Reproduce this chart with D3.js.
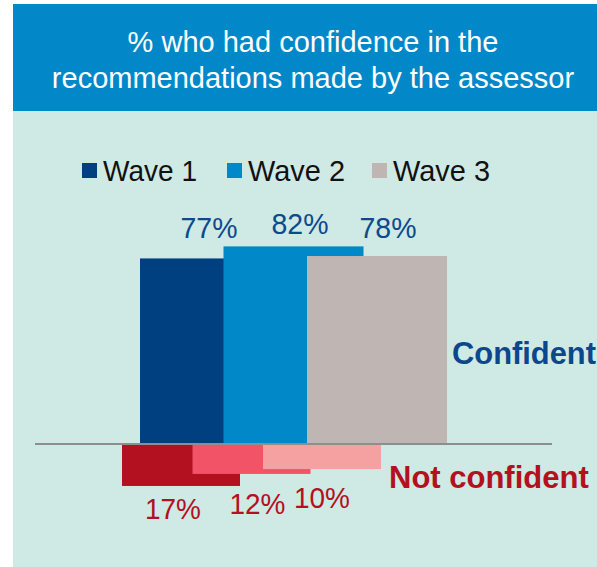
<!DOCTYPE html>
<html>
<head>
<meta charset="utf-8">
<script src="https://cdn.jsdelivr.net/npm/d3@7"></script>
<style>
  html, body { margin: 0; padding: 0; background: #ffffff; }
  svg { display: block; }
  text { font-family: "Liberation Sans", Arial, sans-serif; }
</style>
</head>
<body>
<svg id="chart" width="597" height="567"></svg>
<script>
// ---- data ----
const titleLines = ["% who had confidence in the", "recommendations made by the assessor"];
const waves = ["Wave 1", "Wave 2", "Wave 3"];
const confident = [77, 82, 78];
const notConfident = [17, 12, 10];
const posColors = ["#003f80", "#0088c8", "#bfb5b2"];
const negColors = ["#b31020", "#f25366", "#f5a1a1"];
const posLabel = "Confident";
const negLabel = "Not confident";

// ---- drawing ----
const svg = d3.select("#chart");

// panels
svg.append("rect").attr("x", 13).attr("y", 110).attr("width", 584).attr("height", 457).attr("fill", "#cfe9e5");
svg.append("rect").attr("x", 13).attr("y", 4).attr("width", 584).attr("height", 107).attr("fill", "#0288c8");

svg.selectAll("text.title").data(titleLines).enter().append("text")
  .attr("class", "title")
  .attr("x", 313).attr("y", (d, i) => 52 + i * 36)
  .attr("text-anchor", "middle").attr("fill", "#ffffff")
  .attr("font-size", 29)
  .text(d => d);

// legend
const legX = d3.scaleOrdinal().domain(waves).range([82, 227, 372]);
const legW = [94, 97, 97];
const leg = svg.selectAll("g.leg").data(waves).enter().append("g").attr("class", "leg")
  .attr("transform", d => `translate(${legX(d)},163)`);
leg.append("rect").attr("width", 15).attr("height", 15).attr("fill", (d, i) => posColors[i]);
leg.append("text").attr("x", 21).attr("y", 18).attr("font-size", 29).attr("fill", "#111")
  .attr("textLength", (d, i) => legW[i]).attr("lengthAdjust", "spacingAndGlyphs")
  .text(d => d);

// scales
const pxPerPct = 2.41;
const yPos = d3.scaleLinear().domain([0, 100]).range([444, 444 - 100 * pxPerPct]);
const yNeg = d3.scaleLinear().domain([0, 100]).range([445, 445 + 100 * pxPerPct]);
const xPos = d3.scaleBand().domain(waves).range([140, 390.5]).padding(0);
const xNeg = d3.scaleBand().domain(waves).range([122, 333.5]).padding(0);
const posBarW = 140, negBarW = 118;

// positive bars (drawn in order so later waves overlap earlier ones)
svg.selectAll("rect.pos").data(confident).enter().append("rect")
  .attr("class", "pos")
  .attr("x", (d, i) => xPos(waves[i]))
  .attr("y", d => yPos(d))
  .attr("width", posBarW)
  .attr("height", d => yPos(0) - yPos(d))
  .attr("fill", (d, i) => posColors[i]);

// negative bars
svg.selectAll("rect.neg").data(notConfident).enter().append("rect")
  .attr("class", "neg")
  .attr("x", (d, i) => xNeg(waves[i]))
  .attr("y", yNeg(0))
  .attr("width", negBarW)
  .attr("height", d => yNeg(d) - yNeg(0))
  .attr("fill", (d, i) => negColors[i]);

// baseline
svg.append("line").attr("x1", 35).attr("x2", 552).attr("y1", 444).attr("y2", 444)
  .attr("stroke", "#8e8e8e").attr("stroke-width", 2);

// value labels
const posDx = [-1, 6.5, 11], posDy = [-20, -12, -18];
svg.selectAll("text.pv").data(confident).enter().append("text")
  .attr("class", "pv")
  .attr("x", (d, i) => xPos(waves[i]) + posBarW / 2 + posDx[i])
  .attr("y", (d, i) => yPos(d) + posDy[i])
  .attr("text-anchor", "middle").attr("font-size", 30).attr("fill", "#0d4a8c")
  .attr("textLength", 57).attr("lengthAdjust", "spacingAndGlyphs")
  .text(d => d + "%");

const negDx = [-8, 6, 0], negDy = [33, 40, 39];
svg.selectAll("text.nv").data(notConfident).enter().append("text")
  .attr("class", "nv")
  .attr("x", (d, i) => xNeg(waves[i]) + negBarW / 2 + negDx[i])
  .attr("y", (d, i) => yNeg(d) + negDy[i])
  .attr("text-anchor", "middle").attr("font-size", 29.5).attr("fill", "#b31020")
  .attr("textLength", 56).attr("lengthAdjust", "spacingAndGlyphs")
  .text(d => d + "%");

// side labels
svg.append("text").attr("x", 452).attr("y", 364)
  .attr("font-size", 31).attr("font-weight", "bold").attr("fill", "#0b478a")
  .attr("textLength", 144).attr("lengthAdjust", "spacingAndGlyphs").text(posLabel);
svg.append("text").attr("x", 389).attr("y", 488)
  .attr("font-size", 31).attr("font-weight", "bold").attr("fill", "#b31020")
  .text(negLabel);
</script>
</body>
</html>
